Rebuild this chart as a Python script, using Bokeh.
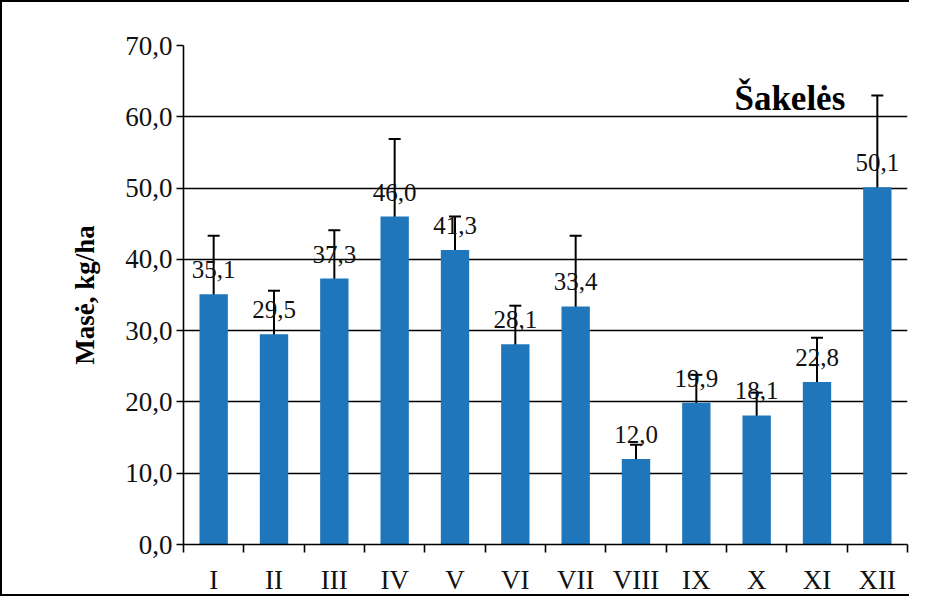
from bokeh.plotting import figure
from bokeh.models import (ColumnDataSource, Whisker, TeeHead, FixedTicker, Label,
                          LabelSet, Range1d)
from bokeh.core.properties import value
from bokeh.embed import file_html
from bokeh.resources import INLINE

# ---- data ----
months = ["I", "II", "III", "IV", "V", "VI", "VII", "VIII", "IX", "X", "XI", "XII"]
values = [35.1, 29.5, 37.3, 46.0, 41.3, 28.1, 33.4, 12.0, 19.9, 18.1, 22.8, 50.1]
errors = [8.2, 6.1, 6.8, 10.9, 4.7, 5.4, 9.9, 2.0, 3.9, 3.2, 6.2, 12.9]
y_ticks = [0, 10, 20, 30, 40, 50, 60, 70]
title_text = "Šakelės"
y_label = "Masė, kg/ha"

centers = [i + 0.5 for i in range(len(months))]
bounds = [float(i) for i in range(len(months) + 1)]
src = ColumnDataSource(dict(
    x=centers,
    top=values,
    upper=[v + e for v, e in zip(values, errors)],
    lower=[v - e for v, e in zip(values, errors)],
    lbl=[f"{v:.1f}".replace(".", ",") for v in values],
))

SERIF = "Liberation Serif"
p = figure(width=909, height=596, output_backend="svg", toolbar_location=None,
           x_range=Range1d(0, len(months)), y_range=Range1d(0, 70),
           min_border_left=181, min_border_right=4, min_border_top=43,
           min_border_bottom=54)
p.styles = {"border-left": "2px solid black", "border-top": "2px solid black",
            "border-bottom": "2px solid black"}
p.outline_line_color = None
p.background_fill_color = "white"
p.border_fill_color = "white"

p.vbar(x="x", top="top", width=0.47, source=src, fill_color="#1F76BA",
       line_color=None)

wh = Whisker(base="x", upper="upper", lower="lower", source=src,
             line_color="black", line_width=2,
             upper_head=TeeHead(size=12, line_color="black", line_width=2),
             lower_head=TeeHead(size=12, line_color="black", line_width=2))
p.add_layout(wh)

labels = LabelSet(x="x", y="top", text="lbl", source=src, text_align="center",
                  text_baseline="bottom", y_offset=16, text_font=value(SERIF),
                  text_font_size=value("25px"), text_color=value("#111111"))
p.add_layout(labels)

p.add_layout(Label(x=10.05, y=62.5, text=title_text, text_align="center",
                   text_baseline="alphabetic", text_font=SERIF,
                   text_font_size="35px", text_font_style="bold",
                   text_color="black"))

# x axis
p.xaxis.ticker = FixedTicker(ticks=centers, minor_ticks=bounds)
p.xaxis.major_label_overrides = {c: m for c, m in zip(centers, months)}
p.xaxis.major_tick_out = 0
p.xaxis.major_tick_in = 0
p.xaxis.minor_tick_out = 8
p.xaxis.minor_tick_in = 0
p.xaxis.minor_tick_line_color = "black"
p.xaxis.minor_tick_line_width = 1.6
p.xaxis.axis_line_color = "black"
p.xaxis.axis_line_width = 1.6
p.xaxis.major_label_text_font = SERIF
p.xaxis.major_label_text_font_size = "27px"
p.xaxis.major_label_text_color = "#111111"
p.xaxis.major_label_standoff = 12

# y axis
p.yaxis.ticker = FixedTicker(ticks=y_ticks, minor_ticks=[])
p.yaxis.major_label_overrides = {t: f"{t:.1f}".replace(".", ",") for t in y_ticks}
p.yaxis.major_tick_out = 7
p.yaxis.major_tick_in = 0
p.yaxis.major_tick_line_color = "black"
p.yaxis.major_tick_line_width = 1.6
p.yaxis.axis_line_color = "black"
p.yaxis.axis_line_width = 1.6
p.yaxis.major_label_text_font = SERIF
p.yaxis.major_label_text_font_size = "27px"
p.yaxis.major_label_text_color = "#111111"
p.yaxis.major_label_standoff = 4
p.yaxis.axis_label = y_label
p.yaxis.axis_label_text_font = SERIF
p.yaxis.axis_label_text_font_size = "27px"
p.yaxis.axis_label_text_font_style = "bold"
p.yaxis.axis_label_text_color = "black"
p.yaxis.axis_label_standoff = 22

p.xgrid.grid_line_color = None
p.ygrid.grid_line_color = "black"
p.ygrid.grid_line_width = 1.5
p.ygrid.ticker = FixedTicker(ticks=y_ticks)

open("out.html", "w").write(file_html(p, INLINE))
